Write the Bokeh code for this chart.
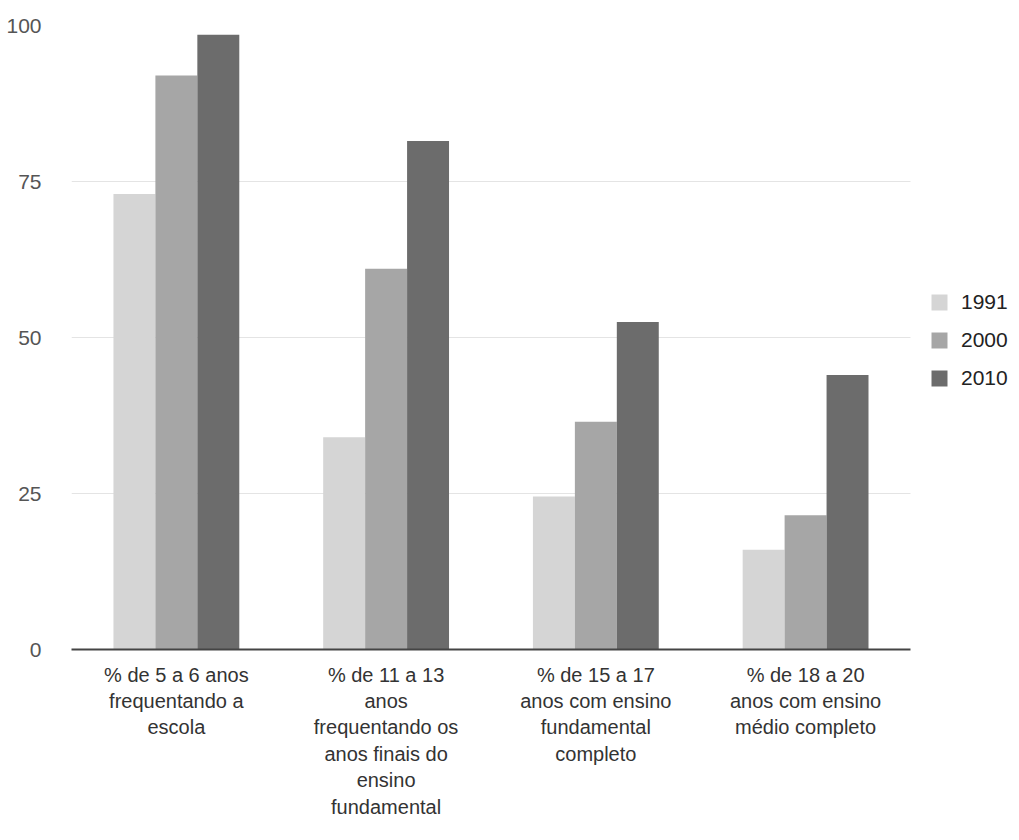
import numpy as np
from bokeh.plotting import figure
from bokeh.models import ColumnDataSource, Range1d, Legend, LegendItem, FixedTicker
from bokeh.transform import dodge
from bokeh.embed import file_html
from bokeh.resources import INLINE

categories = [
    "% de 5 a 6 anos\nfrequentando a\nescola",
    "% de 11 a 13\nanos\nfrequentando os\nanos finais do\nensino\nfundamental",
    "% de 15 a 17\nanos com ensino\nfundamental\ncompleto",
    "% de 18 a 20\nanos com ensino\nmédio completo",
]
years = ["1991", "2000", "2010"]
v1991 = [73.0, 34.0, 24.5, 16.0]
v2000 = [92.0, 61.0, 36.5, 21.5]
v2010 = [98.5, 81.5, 52.5, 44.0]
colors = ["#d5d5d5", "#a6a6a6", "#6c6c6c"]
y_ticks = [0, 25, 50, 75, 100]

FONT = "Liberation Sans"
n = len(categories)
xpos = (np.arange(n) + 0.5).tolist()

source = ColumnDataSource(dict(x=xpos, cat=categories, v1991=v1991, v2000=v2000, v2010=v2010))

p = figure(
    x_range=Range1d(0, n + 0.477),
    y_range=Range1d(0, 100),
    width=1010, height=824,
    output_backend="svg", toolbar_location=None,
    min_border_left=71, min_border_right=0, min_border_top=25, min_border_bottom=175,
)
p.outline_line_color = None
p.background_fill_color = "white"

renderers = []
for i, (yr, col) in enumerate(zip(years, colors)):
    r = p.vbar(x=dodge("x", -0.2 + 0.2 * i), top="v" + yr, width=0.2,
               source=source, fill_color=col, line_color=None)
    renderers.append(r)

legend = Legend(items=[LegendItem(label=yr, renderers=[r]) for yr, r in zip(years, renderers)],
                location=(858, 259), orientation="vertical")
legend.border_line_color = None
legend.background_fill_alpha = 0
legend.padding = 0
legend.margin = 0
legend.glyph_width = 20
legend.glyph_height = 20
legend.label_height = 20
legend.spacing = 14
legend.label_standoff = 12
legend.label_text_font = FONT
legend.label_text_font_size = "21px"
legend.label_text_color = "#222222"
p.add_layout(legend, "center")

p.xgrid.grid_line_color = None
p.ygrid.grid_line_color = "#e4e4e4"
p.ygrid.grid_line_width = 1
p.ygrid.cross_bounds = (0, n)
p.yaxis.ticker = FixedTicker(ticks=y_ticks)
p.yaxis.axis_line_color = None
p.yaxis.major_tick_line_color = None
p.yaxis.minor_tick_line_color = None
p.yaxis.major_label_standoff = 24
p.yaxis.major_label_text_font = FONT
p.yaxis.major_label_text_font_size = "21px"
p.yaxis.major_label_text_color = "#555555"

p.xaxis.ticker = FixedTicker(ticks=xpos)
p.xaxis.major_label_overrides = {x: c for x, c in zip(xpos, categories)}
p.xaxis.bounds = (0, n)
p.xaxis.axis_line_color = "#444444"
p.xaxis.axis_line_width = 2
p.xaxis.major_tick_line_color = None
p.xaxis.minor_tick_line_color = None
p.xaxis.major_label_standoff = 8
p.xaxis.major_label_text_font = FONT
p.xaxis.major_label_text_font_size = "20px"
p.xaxis.major_label_text_color = "#333333"
p.xaxis.major_label_text_line_height = 1.2
p.xaxis.major_label_orientation = "horizontal"

open("out.html", "w").write(file_html(p, INLINE))
